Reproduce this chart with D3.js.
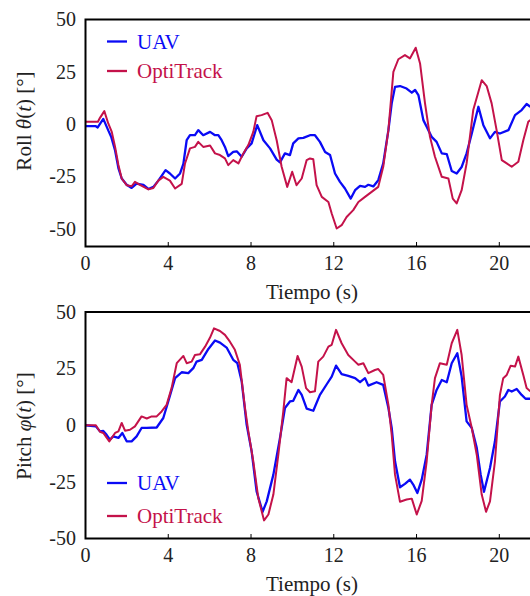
<!DOCTYPE html>
<html>
<head>
<meta charset="utf-8">
<script src="https://cdn.jsdelivr.net/npm/d3@7"></script>
<style>
  body { margin: 0; background: #fff; }
  svg { display: block; font-family: "Liberation Serif", "DejaVu Serif", serif; }
  .tick-label { font-size: 20px; fill: #222; }
  .axis-title { font-size: 21px; fill: #222; }
  .legend-text { font-size: 21px; }
</style>
</head>
<body>
<svg width="530" height="596"></svg>
<script>
// time (s), angle (deg)
const rollUav = [
  [0, -1], [0.5, -1], [0.59, -1.6], [0.86, 2.5], [1.1, -3], [1.24, -6], [1.43, -12.6], [1.59, -21],
  [1.75, -26], [1.99, -29], [2.23, -30.5], [2.47, -28.5], [2.8, -29], [3.04, -31], [3.28, -30],
  [3.52, -27], [3.87, -22], [4.08, -23.6], [4.33, -26], [4.57, -23.6], [4.73, -19], [4.89, -7.7],
  [5.05, -5.3], [5.29, -5.3], [5.45, -2.9], [5.69, -5.3], [6.02, -3.7], [6.26, -5.3], [6.42, -5.3],
  [6.58, -7.7], [6.74, -10.9], [6.9, -15.3], [7.14, -13.3], [7.31, -13], [7.55, -15.6], [7.79, -11.6],
  [8.03, -9.2], [8.3, -0.5], [8.6, -7.7], [8.92, -11.6], [9.24, -17], [9.4, -18.3], [9.64, -14],
  [9.88, -14.8], [10.04, -9.2], [10.29, -6.8], [10.53, -6.6], [10.85, -5.3], [11.09, -5.3],
  [11.33, -8.5], [11.58, -13.3], [11.82, -14.8], [12.06, -23.6], [12.3, -27.6], [12.54, -30.8],
  [12.82, -35.6], [13.03, -31.6], [13.27, -29.5], [13.51, -30], [13.67, -29], [13.91, -29.8],
  [14.15, -26.8], [14.39, -18.8], [14.64, -2.9], [14.8, 9.9], [14.96, 17.8], [15.2, 18.2],
  [15.52, 17], [15.77, 15], [15.93, 16.3], [16.09, 13.9], [16.33, 1.9], [16.49, -1.3], [16.73, -6.1],
  [16.97, -8.5], [17.22, -14], [17.46, -14.3], [17.7, -22.4], [17.94, -23.6], [18.18, -20.5],
  [18.42, -14], [18.67, -4.5], [18.99, 8.3], [19.23, -0.5], [19.55, -6.8], [19.79, -3.7],
  [20.03, -4.5], [20.44, -2.9], [20.76, 4.3], [21.08, 6.7], [21.32, 9.6], [21.5, 8.3]
];

const rollOpti = [
  [0, 1.1], [0.6, 1.1], [0.7, 3], [0.91, 6.2], [1.1, 0.3], [1.27, -3.7], [1.43, -10.9], [1.59, -19.5],
  [1.75, -26], [1.99, -29.2], [2.23, -29.7], [2.39, -27.6], [2.63, -29], [3.04, -31.2], [3.28, -30.5],
  [3.52, -27], [3.76, -25.2], [4.08, -27], [4.33, -30.8], [4.65, -28.6], [4.81, -18.8], [5.05, -11.6],
  [5.29, -10.9], [5.45, -8.5], [5.69, -10.9], [6.02, -10.2], [6.26, -14], [6.5, -14.8], [6.74, -16.4],
  [6.9, -19.6], [7.14, -17.2], [7.39, -18.8], [7.63, -14], [7.87, -10], [8.11, -3.7], [8.27, 3.8],
  [8.51, 4.3], [8.8, 5.4], [9.0, 1.9], [9.24, -7.7], [9.48, -20.4], [9.75, -30], [9.99, -22.8],
  [10.2, -29.2], [10.45, -26], [10.69, -17.2], [10.85, -16.4], [11.01, -16.8], [11.17, -29.2],
  [11.42, -34.8], [11.74, -37.2], [11.9, -42.7], [12.14, -49.9], [12.38, -48.3], [12.62, -44.4],
  [12.94, -41.1], [13.19, -37.2], [13.51, -34.8], [13.83, -32.4], [14.15, -30], [14.39, -20.4],
  [14.64, -2.9], [14.88, 25], [15.12, 31], [15.44, 33], [15.68, 31.4], [15.96, 36.5], [16.17, 29],
  [16.41, 9.9], [16.65, -6.1], [16.89, -15.6], [17.22, -25.2], [17.54, -26], [17.75, -35.6],
  [17.94, -37.9], [18.18, -31.6], [18.42, -18.8], [18.74, 6.7], [19.15, 21], [19.39, 18.2],
  [19.63, 9.9], [19.87, -2.9], [20.12, -17.2], [20.36, -18.8], [20.6, -20.4], [20.92, -18],
  [21.16, -7.7], [21.4, 1.1], [21.5, 1.9]
];

const pitchUav = [
  [0, 0], [0.5, -0.5], [0.7, -2.7], [0.86, -2.5], [1.02, -4.2], [1.18, -6.4], [1.34, -4.9], [1.59, -5.6],
  [1.78, -3.4], [1.99, -7.1], [2.23, -7.1], [2.47, -4.9], [2.71, -1.2], [2.96, -1.2], [3.44, -1],
  [3.76, 3.2], [4.0, 10.5], [4.33, 20.8], [4.65, 23.4], [4.97, 23], [5.21, 25.2], [5.37, 28.1],
  [5.62, 28.9], [5.94, 33.7], [6.26, 37.4], [6.5, 36.5], [6.82, 34.3], [7.14, 28.9], [7.34, 27.4],
  [7.55, 19.3], [7.79, 0.2], [8.03, -11.5], [8.27, -29.2], [8.56, -38.2], [8.76, -33.6], [9.08, -21.8],
  [9.4, -5.6], [9.64, 7.6], [9.88, 10.5], [10.04, 10.8], [10.29, 15.6], [10.45, 13.4], [10.69, 7.3],
  [11.01, 6.4], [11.33, 13.4], [11.66, 18.1], [11.9, 21.5], [12.11, 26.3], [12.38, 22.6], [12.7, 21.8],
  [13.03, 20.8], [13.27, 19], [13.51, 20.8], [13.67, 17.5], [14.07, 19], [14.39, 17.8], [14.64, 7.6],
  [14.8, -1.2], [14.96, -15.9], [15.2, -27.4], [15.44, -25.9], [15.68, -24], [15.84, -26.2],
  [16.04, -29.9], [16.25, -24], [16.49, -13], [16.73, 9], [16.97, 15.6], [17.22, 20], [17.46, 19],
  [17.7, 27.4], [17.97, 31.8], [18.18, 21.5], [18.42, 1.7], [18.67, -1.2], [18.91, -10], [19.1, -21.8],
  [19.26, -29.4], [19.55, -18.9], [19.79, -7.1], [20.03, 10.5], [20.27, 12.7], [20.44, 15.6],
  [20.6, 14.9], [20.84, 16], [21.08, 13.4], [21.27, 11.7], [21.5, 11.7]
];

const pitchOpti = [
  [0, 0], [0.5, 0], [0.7, -2.9], [0.86, -3.4], [1.15, -7.1], [1.43, -3.4], [1.59, -2.7], [1.75, 1],
  [1.91, -2.4], [2.15, -2], [2.39, -0.5], [2.71, 3.9], [2.96, 3], [3.2, 3.9], [3.44, 3.9], [3.68, 6.1],
  [3.92, 9], [4.16, 16.4], [4.41, 27.4], [4.73, 30.6], [4.89, 27.4], [5.13, 28.1], [5.29, 31],
  [5.53, 31.3], [5.78, 34.7], [6.02, 38.7], [6.21, 42.8], [6.5, 41.6], [6.74, 39.9], [6.98, 36.9],
  [7.22, 33.3], [7.46, 26.7], [7.71, 7.6], [7.87, -2.7], [8.11, -15.9], [8.35, -32.1], [8.63, -42],
  [8.84, -39.4], [9.08, -30.6], [9.32, -13], [9.56, 6.1], [9.72, 20.8], [9.96, 19], [10.25, 30.6],
  [10.45, 25.9], [10.66, 16.4], [10.85, 14.6], [11.09, 15], [11.25, 28.1], [11.49, 30.3], [11.74, 34.7],
  [11.9, 35.5], [12.11, 42.1], [12.38, 36.2], [12.7, 31], [13.03, 28.1], [13.19, 26.7], [13.43, 27.4],
  [13.67, 23], [13.99, 24.4], [14.15, 24.8], [14.39, 22.2], [14.64, 9], [14.8, -4.2], [14.96, -21.8],
  [15.2, -33.8], [15.52, -32.8], [15.77, -32.4], [16.01, -39.4], [16.25, -33.4], [16.49, -15.9],
  [16.73, 9], [16.89, 20.8], [17.13, 27.4], [17.46, 26.7], [17.7, 36.2], [17.97, 42.1], [18.18, 31],
  [18.42, 9], [18.67, -1.2], [18.91, -13], [19.15, -30.6], [19.36, -38.2], [19.55, -33.6],
  [19.79, -15.9], [20.03, 13.4], [20.19, 20.8], [20.36, 22.2], [20.55, 26.3], [20.76, 25.9],
  [20.92, 30.3], [21.16, 22.2], [21.32, 16.4], [21.5, 15]
];

const xTicks = [0, 4, 8, 12, 16, 20];
const yTicks = [-50, -25, 0, 25, 50];
const seriesNames = ["UAV", "OptiTrack"];

const colors = { "UAV": "#0a0af5", "OptiTrack": "#c4124a" };

const svg = d3.select("svg");
const left = 85.5;

// the plot runs past the right side of the window, like the picture
const x = d3.scaleLinear().domain([0, 25]).range([left, left + 25 * 20.69]);

function drawPanel(cfg) {
  const y = d3.scaleLinear().domain(cfg.yDomain).range([cfg.bottom, cfg.top]);
  const g = svg.append("g");

  g.append("clipPath").attr("id", cfg.id)
    .append("rect")
    .attr("x", x.range()[0]).attr("y", cfg.top)
    .attr("width", x.range()[1] - x.range()[0])
    .attr("height", cfg.bottom - cfg.top);

  const line = d3.line()
    .x(d => x(d[0]))
    .y(d => y(d[1]));

  // UAV first, OptiTrack drawn over it
  g.append("path")
    .datum(cfg.uav)
    .attr("clip-path", `url(#${cfg.id})`)
    .attr("fill", "none")
    .attr("stroke", colors["UAV"])
    .attr("stroke-width", 2.3)
    .attr("stroke-linejoin", "round")
    .attr("d", line);

  g.append("path")
    .datum(cfg.opti)
    .attr("clip-path", `url(#${cfg.id})`)
    .attr("fill", "none")
    .attr("stroke", colors["OptiTrack"])
    .attr("stroke-width", 2)
    .attr("stroke-linejoin", "round")
    .attr("d", line);

  // frame
  g.append("rect")
    .attr("x", x.range()[0]).attr("y", cfg.top)
    .attr("width", x.range()[1] - x.range()[0])
    .attr("height", cfg.bottom - cfg.top)
    .attr("fill", "none")
    .attr("stroke", "#000")
    .attr("stroke-width", 2);

  // x ticks point inward
  g.selectAll(".xtick").data(xTicks).enter().append("line")
    .attr("x1", d => x(d)).attr("x2", d => x(d))
    .attr("y1", cfg.bottom).attr("y2", cfg.bottom - 4.5)
    .attr("stroke", "#000").attr("stroke-width", 1);

  g.selectAll(".xlab").data(xTicks).enter().append("text")
    .attr("class", "tick-label")
    .attr("x", d => x(d))
    .attr("y", cfg.bottom + 23.5)
    .attr("text-anchor", "middle")
    .text(d => d);

  g.selectAll(".ylab").data(yTicks).enter().append("text")
    .attr("class", "tick-label")
    .attr("x", 76)
    .attr("y", d => y(d))
    .attr("dy", "0.34em")
    .attr("text-anchor", "end")
    .text(d => d);

  g.append("text")
    .attr("class", "axis-title")
    .attr("x", 312)
    .attr("y", cfg.bottom + 52)
    .attr("text-anchor", "middle")
    .text("Tiempo (s)");

  const yt = g.append("text")
    .attr("class", "axis-title")
    .attr("transform", `translate(31,${cfg.yTitleY}) rotate(-90)`)
    .attr("text-anchor", "middle");
  yt.append("tspan").text(cfg.label + " ");
  yt.append("tspan").style("font-style", "italic").text(cfg.sym);
  yt.append("tspan").text("(");
  yt.append("tspan").style("font-style", "italic").text("t");
  yt.append("tspan").text(") [°]");

  // legend
  seriesNames.forEach((name, i) => {
    const ly = cfg.legendY[i];
    g.append("line")
      .attr("x1", 107).attr("x2", 127)
      .attr("y1", ly).attr("y2", ly)
      .attr("stroke", colors[name])
      .attr("stroke-width", 2.3);
    g.append("text")
      .attr("class", "legend-text")
      .attr("x", 137)
      .attr("y", ly)
      .attr("dy", "0.34em")
      .style("fill", colors[name])
      .text(name);
  });
}

drawPanel({
  id: "clipRoll", top: 19.5, bottom: 246.5, yDomain: [-58.5, 50],
  uav: rollUav, opti: rollOpti, label: "Roll", sym: "θ",
  yTitleY: 121, legendY: [41.5, 71]
});

drawPanel({
  id: "clipPitch", top: 312, bottom: 538.5, yDomain: [-50, 50],
  uav: pitchUav, opti: pitchOpti, label: "Pitch", sym: "φ",
  yTitleY: 426, legendY: [483, 516]
});
</script>
</body>
</html>
